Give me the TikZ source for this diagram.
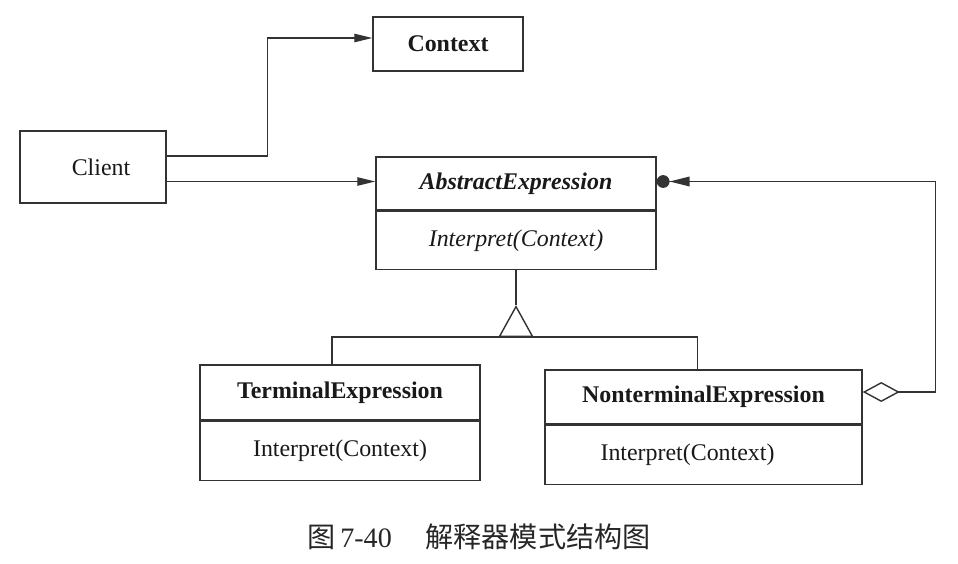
\documentclass[tikz,border=0pt]{standalone}
\usepackage{fontspec}
\setmainfont{Liberation Serif}
\newfontfamily\cjk{Noto Sans CJK SC}
\usetikzlibrary{arrows.meta,positioning,calc}

\begin{document}
\begin{tikzpicture}[x=0.025cm,y=-0.025cm,line width=1pt,draw=black!80]
\tikzstyle{cls} = [rectangle, draw=black!80, line width=1pt, inner sep=0pt, text=black!90, font=\fontsize{17}{20}\selectfont]
\tikzstyle{arr} = [-{Triangle[length=4.5mm,width=2.1mm]}]
\useasboundingbox (0,0) rectangle (958,564);

\node[cls, minimum width=3.75cm, minimum height=1.35cm] (context) at (448,44) {\bfseries Context};
\node[cls, minimum width=3.65cm, minimum height=1.8cm] (client) at (93,167) {\hspace*{4mm}Client};

\node[cls, minimum width=7cm, minimum height=1.325cm] (atitle) at (516,183.5) {\bfseries\itshape AbstractExpression};
\node[cls, minimum width=7cm, minimum height=1.45cm, below=0pt of atitle] (aop) {\itshape Interpret(Context)};

\node[cls, minimum width=7cm, minimum height=1.375cm] (ttitle) at (340,392.5) {\bfseries TerminalExpression};
\node[cls, minimum width=7cm, minimum height=1.475cm, below=0pt of ttitle] (top) {Interpret(Context)};

\node[cls, minimum width=7.925cm, minimum height=1.35cm] (ntitle) at (703.5,397) {\bfseries NonterminalExpression};
\node[cls, minimum width=7.925cm, minimum height=1.475cm, below=0pt of ntitle] (nop) {\hspace*{-8mm}Interpret(Context)};

% client uses context and expressions
\draw[arr] ($(client.east)+(0,-11)$) -- ++(101,0) |- ($(context.west)+(0,-6)$);
\draw[arr] ($(client.east |- atitle.west)+(0,-2)$) -- ($(atitle.west)+(0,-2)$);

% inheritance
\coordinate (apex) at ($(aop.south)+(0,35)$);
\coordinate (bar) at ($(aop.south)+(0,67)$);
\draw (aop.south) -- (apex);
\draw[-{Triangle[open,length=0.8cm,width=0.875cm]}] (bar) -- (apex);
\draw ($(ttitle.north)+(-8,0)$) |- (bar) -| ($(ntitle.north)+(-6,0)$);

% aggregation
\draw[{Diamond[open,length=9.25mm,width=5mm]}-{Triangle[length=5mm,width=2.4mm] Circle[length=3.2mm]}] ($(ntitle.east)+(0,-5)$) -- ++(73,0) |- ($(atitle.east)+(0,-2)$);

\node[text=black!85, font=\fontsize{20}{24}\selectfont] (caption) at (479,537) {{\cjk 图}\,7-40\hspace{1.2em}{\cjk 解释器模式结构图}};
\end{tikzpicture}
\end{document}
